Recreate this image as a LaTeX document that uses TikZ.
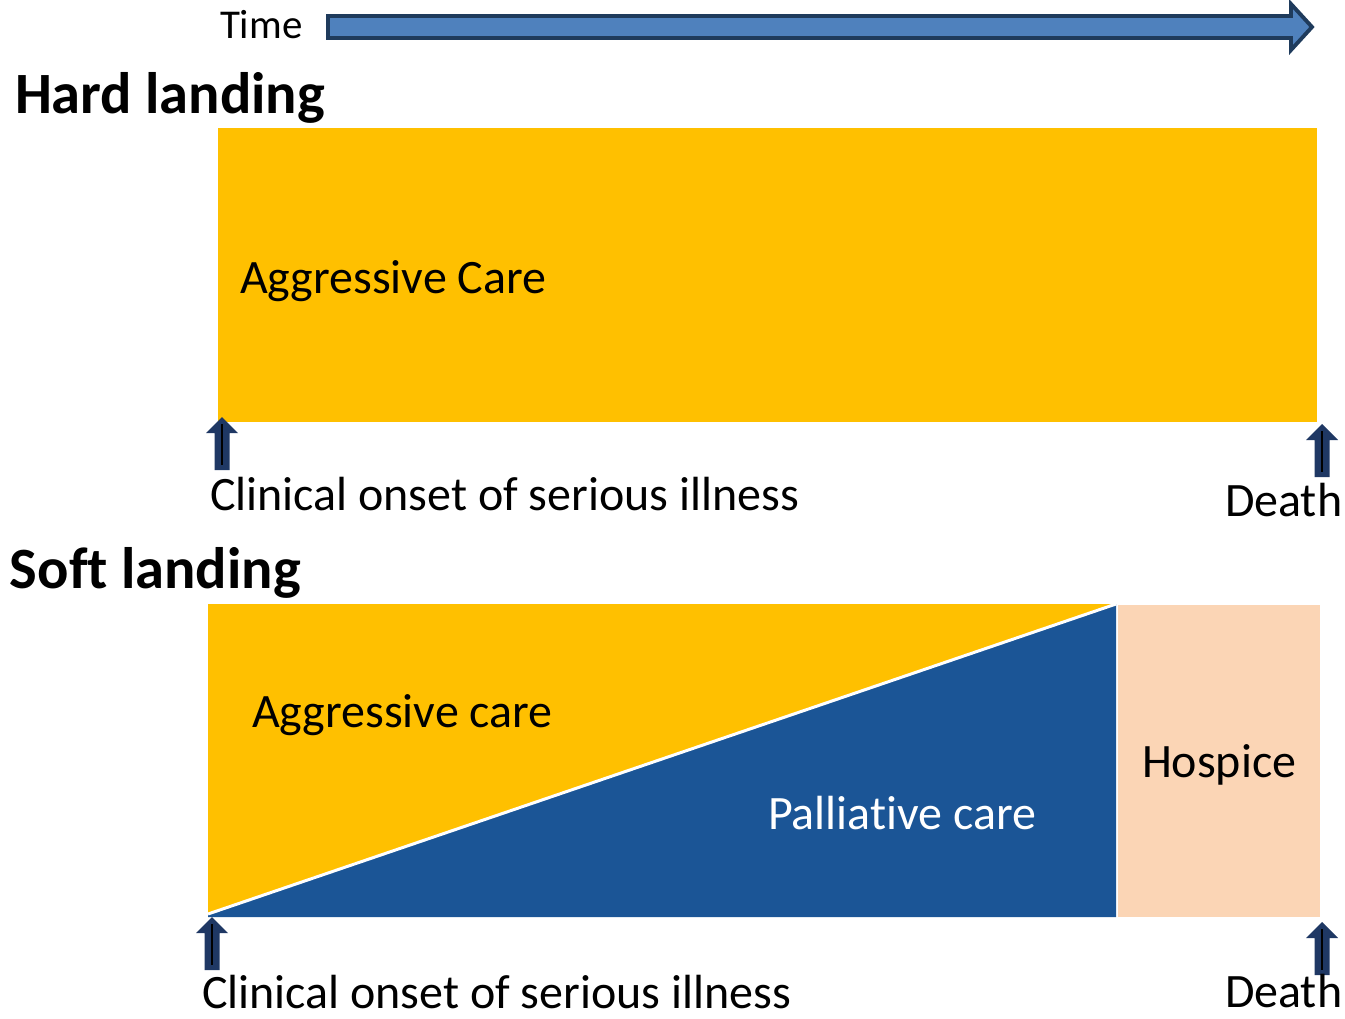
\documentclass[tikz,border=0pt]{standalone}
\usepackage{fontspec}
\setmainfont{Carlito}[Ligatures=CommonOff]
\usetikzlibrary{positioning}

\definecolor{careyellow}{HTML}{FFC000}
\definecolor{careblue}{HTML}{1B5596}
\definecolor{hospicepeach}{HTML}{FBD5B5}
\definecolor{timefill}{HTML}{4F81BD}
\definecolor{timeline}{HTML}{1F3B5C}
\definecolor{arrnavy}{HTML}{1F3864}

\begin{document}
\begin{tikzpicture}[
  x=0.02cm, y=-0.02cm,
  every node/.style={inner sep=0pt, outer sep=0pt,
                     font=\fontsize{27.3}{32}\selectfont},
  lbl/.style  ={anchor=base west},
  ttl/.style  ={anchor=base west, font=\fontsize{33.3}{40}\selectfont\bfseries},
  uparr/.pic  ={
    \fill[arrnavy] (0,0) -- (16,16) -- (7.5,16) -- (7.5,53)
                   -- (-7.5,53) -- (-7.5,16) -- (-16,16) -- cycle;
    \draw[black, line width=1.6pt] (0,7) -- (0,48);
  }
]
\useasboundingbox (0,0) rectangle (1345,1018);

%% ---- time axis -------------------------------------------------------
\node[lbl, font=\fontsize{23.3}{28}\selectfont] (time) at (220,38) {Time};
\draw[timeline, fill=timefill, line width=2.2pt, line join=miter]
  (328,16) -- (1291,16) -- (1291,4) -- (1312,27) -- (1291,50)
  -- (1291,38) -- (328,38) -- cycle;

%% ---- hard landing ----------------------------------------------------
\node[ttl] (hard) at (15,113) {Hard landing};
\fill[careyellow] (218,128) rectangle (1317,422);
\node[lbl] (aggr1) at (240,293) {Aggressive Care};

\pic at (222,417) {uparr};
\pic at (1322,424) {uparr};
\node[lbl] (onset1) at (210,510) {Clinical onset of serious illness};
\node[lbl] (death1) at (1225,516) {Death};

%% ---- soft landing ----------------------------------------------------
\node[ttl] (soft) at (10,588) {Soft landing};
\fill[careyellow] (208,604) rectangle (1116,917);
\fill[careblue] (208,914) -- (1116,604) -- (1116,917) -- (208,917) -- cycle;
\draw[white, line width=1.7pt] (208,914) -- (1116,604);
\fill[hospicepeach] (1118,605) rectangle (1320,917);

\node[lbl] (aggr2) at (252,727) {Aggressive care};
\node[lbl, white] (pall) at (768,829) {Palliative care};
\node[lbl] (hosp) at (1142,777) {Hospice};

\pic at (212,917) {uparr};
\pic at (1322,922) {uparr};
\node[lbl] (onset2) at (202,1008) {Clinical onset of serious illness};
\node[lbl] (death2) at (1225,1007) {Death};

\end{tikzpicture}
\end{document}
